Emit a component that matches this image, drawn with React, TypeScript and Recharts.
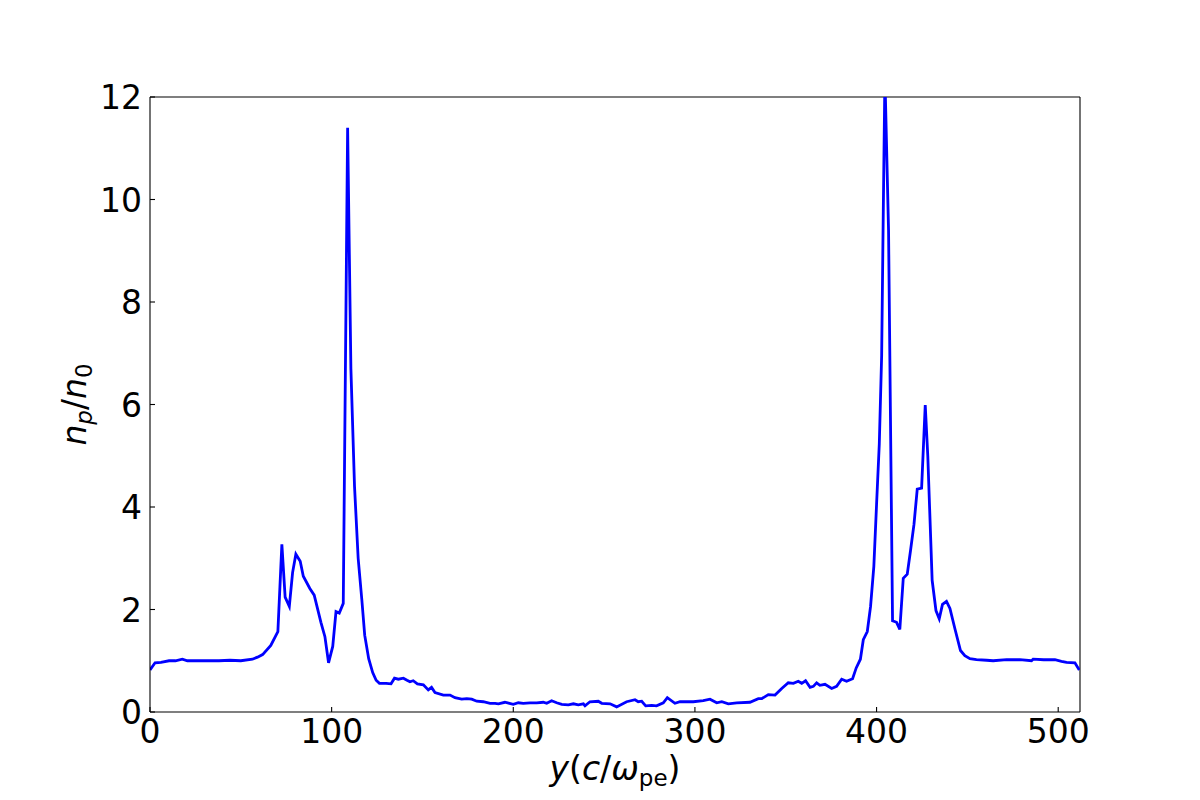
import React from 'react';
import { LineChart, Line, XAxis, YAxis, ReferenceLine } from 'recharts';

// position along y, in units of c/omega_pe
const yPos = [
  0, 2.8, 6, 10.5, 14, 17.8, 20.6, 26, 32, 38, 44, 50, 56.4, 59.2, 62, 66.5, 70.4,
  72.6, 74.4, 76.7, 78.5, 80.3, 82.7, 84.4, 88, 90.4, 94.1, 96.3, 98.3, 100.6, 102.4,
  104.2, 106.4, 108.8, 110.6, 112.6, 114.6, 116.6, 118.2, 120.4, 122.6, 124.5, 126.3,
  130, 132.7, 134.6, 136.7, 139.5, 141.5, 143.1, 144.9, 147.2, 150.5, 153.2, 155,
  156.9, 161.5, 165.2, 167.9, 171.6, 174.4, 177.1, 179.9, 183.5, 187.2, 190, 191.8,
  195.4, 200, 202.8, 205.5, 209.2, 212.9, 216.5, 218.4, 221.1, 223.9, 226.7, 230.3,
  233.1, 235.8, 238.6, 239.5, 242.2, 246.8, 248.7, 253.3, 256.9, 262.4, 267, 268.8,
  270.7, 272.9, 276.2, 278.9, 282.6, 284.8, 289, 291.8, 299.1, 304.6, 308.3, 312,
  314.8, 318.4, 323, 330.3, 334.9, 336.8, 340.4, 344.1, 347.8, 351.4, 354.2, 356.9,
  358.8, 360.9, 363.4, 365.2, 367, 368.8, 371.6, 375.3, 378, 380.8, 383.5, 386.8,
  388.8, 391.1, 392.7, 394.9, 396.7, 398.5, 400, 401.5, 402.8, 403.7, 404.6, 406.6,
  408.8, 411, 412.8, 414.7, 416.9, 418.7, 420.6, 422.4, 424.8, 426.8, 428.2, 430.6,
  432.7, 434.5, 436.3, 438.5, 440.4, 443.1, 446.2, 448.6, 451.4, 455, 460.6, 464.2,
  471.6, 478.9, 485.3, 486.2, 492, 498.2, 501.8, 504.6, 509.2, 511.6,
];

// n_p / n_0
const density = [
  0.82, 0.96, 0.97, 1.0, 1.0, 1.03, 1.0, 1.0, 1.0, 1.0, 1.01, 1.0, 1.03, 1.07, 1.12, 1.3, 1.57,
  3.27, 2.24, 2.06, 2.72, 3.08, 2.94, 2.65, 2.41, 2.28, 1.75, 1.47, 0.96, 1.28, 1.96,
  1.93, 2.12, 11.4, 6.7, 4.4, 3.0, 2.2, 1.5, 1.04, 0.77, 0.62, 0.56,
  0.56, 0.55, 0.66, 0.64, 0.66, 0.62, 0.59, 0.61, 0.55, 0.53, 0.43, 0.48,
  0.38, 0.33, 0.33, 0.28, 0.25, 0.26, 0.25, 0.21, 0.2, 0.17, 0.17, 0.16,
  0.19, 0.15, 0.18, 0.17, 0.18, 0.18, 0.19, 0.17, 0.22, 0.18, 0.15, 0.14,
  0.16, 0.14, 0.16, 0.12, 0.2, 0.21, 0.17, 0.16, 0.1, 0.2, 0.24, 0.2,
  0.21, 0.12, 0.13, 0.12, 0.18, 0.28, 0.17, 0.2, 0.2, 0.22, 0.25, 0.18,
  0.2, 0.16, 0.18, 0.19, 0.26, 0.26, 0.34, 0.33, 0.46, 0.57, 0.56, 0.6,
  0.56, 0.61, 0.48, 0.5, 0.57, 0.52, 0.54, 0.46, 0.5, 0.64, 0.6, 0.65,
  0.86, 1.03, 1.41, 1.57, 2.06, 2.84, 4.05, 5.23, 6.95, 9.77, 12.4, 9.4,
  1.78, 1.75, 1.61, 2.61, 2.69, 3.15, 3.66, 4.35, 4.37, 5.99, 5.0, 2.57,
  1.98, 1.82, 2.1, 2.16, 2.02, 1.63, 1.2, 1.1, 1.04, 1.02, 1.01, 1.0,
  1.02, 1.02, 1.0, 1.03, 1.02, 1.02, 0.99, 0.97, 0.96, 0.82,
];

const xTicks = [0, 100, 200, 300, 400, 500];
const yTicks = [0, 2, 4, 6, 8, 10, 12];
const xMax = 512;
const yMax = 12;

const data = yPos.map((y, i) => ({ y, n: density[i] }));

const FONT = '"DejaVu Sans", sans-serif';

const XTick = (props: any) => {
  const { x, y, payload } = props;
  return (
    <g>
      <line x1={x} x2={x} y1={y} y2={y - 5} stroke="#000" strokeWidth={1.1} />
      <text x={x} y={y + 31} textAnchor="middle" fontSize={33} fontFamily={FONT} fill="#000">
        {payload.value}
      </text>
    </g>
  );
};

const YTick = (props: any) => {
  const { x, y, payload } = props;
  return (
    <g>
      <line x1={x} x2={x + 5} y1={y} y2={y} stroke="#000" strokeWidth={1.1} />
      <text x={x - 8} y={y + 12} textAnchor="end" fontSize={33} fontFamily={FONT} fill="#000">
        {payload.value}
      </text>
    </g>
  );
};

const XLabel = (props: any) => {
  const { x, y, width } = props.viewBox;
  return (
    <text x={x + width / 2} y={y + 68} textAnchor="middle" fontSize={33} fontFamily={FONT} fill="#000">
      <tspan fontStyle="italic">y</tspan>
      <tspan>(</tspan>
      <tspan fontStyle="italic">c</tspan>
      <tspan>/</tspan>
      <tspan fontStyle="italic">ω</tspan>
      <tspan fontSize={23} dy={6}>pe</tspan>
      <tspan dy={-6}>)</tspan>
    </text>
  );
};

const YLabel = (props: any) => {
  const { y, height } = props.viewBox;
  const cx = 86;
  const cy = y + height / 2;
  return (
    <text
      x={cx}
      y={cy}
      transform={`rotate(-90 ${cx} ${cy})`}
      textAnchor="middle"
      fontSize={33}
      fontFamily={FONT}
      fill="#000"
    >
      <tspan fontStyle="italic">n</tspan>
      <tspan fontStyle="italic" fontSize={23} dy={6}>p</tspan>
      <tspan dy={-6}>/</tspan>
      <tspan fontStyle="italic">n</tspan>
      <tspan fontSize={23} dy={6}>0</tspan>
    </text>
  );
};

export default function App() {
  return (
    <div style={{ position: 'absolute', left: 0, top: 0, background: '#fff' }}>
      <LineChart
        width={1200}
        height={800}
        data={data}
        margin={{ top: 97, right: 120, bottom: 48, left: 70 }}
      >
        <XAxis
          xAxisId="b"
          dataKey="y"
          type="number"
          domain={[0, xMax]}
          ticks={xTicks}
          allowDataOverflow
          height={40}
          tickSize={0}
          tickMargin={0}
          tickLine={false}
          axisLine={{ stroke: '#000', strokeWidth: 1.1 }}
          tick={<XTick />}
          interval={0}
          label={{ content: <XLabel /> }}
        />
        <YAxis
          yAxisId="l"
          type="number"
          domain={[0, yMax]}
          ticks={yTicks}
          allowDataOverflow
          width={80}
          tickSize={0}
          tickMargin={0}
          tickLine={false}
          axisLine={{ stroke: '#000', strokeWidth: 1.1 }}
          tick={<YTick />}
          interval={0}
          label={{ content: <YLabel /> }}
        />
        {/* frame: top and right spines */}
        <ReferenceLine xAxisId="b" yAxisId="l" y={yMax} stroke="#000" strokeWidth={1.1} />
        <ReferenceLine xAxisId="b" yAxisId="l" x={xMax} stroke="#000" strokeWidth={1.1} />
        <Line
          xAxisId="b"
          yAxisId="l"
          dataKey="n"
          type="linear"
          stroke="#0000ff"
          strokeWidth={2.8}
          dot={false}
          isAnimationActive={false}
        />
      </LineChart>
    </div>
  );
}
